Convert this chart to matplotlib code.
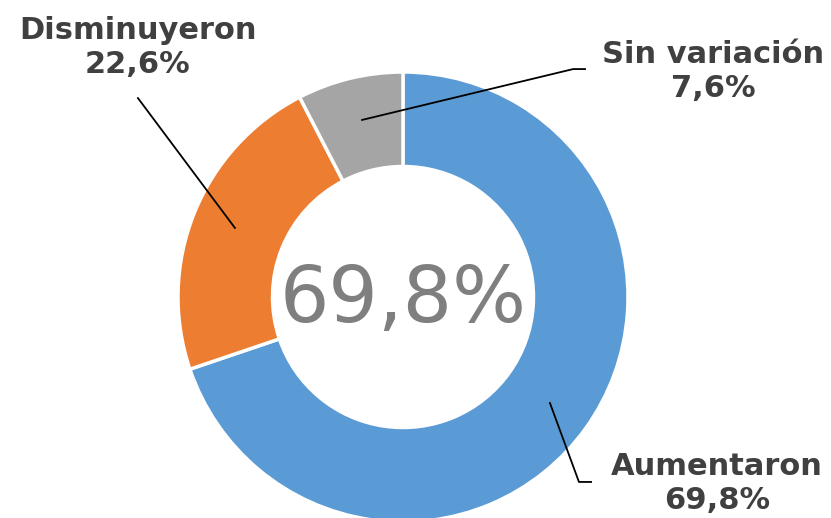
import matplotlib.pyplot as plt

categorias = ['Aumentaron', 'Disminuyeron', 'Sin variación']
valores = [69.8, 22.6, 7.6]
colores = ['#5B9BD5', '#ED7D31', '#A5A5A5']

# posiciones de etiquetas y líneas guía (coordenadas del eje, radio externo = 1)
texto_pos = [(1.396, -0.827), (-1.178, 1.107), (1.378, 1.004)]
guias = [
    [(0.653, -0.471), (0.782, -0.822), (0.836, -0.822)],
    [(-0.747, 0.307), (-1.178, 0.884)],
    [(-0.182, 0.787), (0.756, 1.013), (0.809, 1.013)],
]


def fmt(v):
    return f'{v:.1f}'.replace('.', ',') + '%'


fig = plt.figure(figsize=(8.31, 5.18), dpi=100)
ax = fig.add_axes([178 / 831, -4 / 518, 450 / 831, 450 / 518])

ax.pie(valores, colors=colores, startangle=90, counterclock=False,
       radius=1, wedgeprops=dict(width=0.42, edgecolor='white', linewidth=2.5))
ax.set_xlim(-1, 1)
ax.set_ylim(-1, 1)
ax.set_aspect('equal')
ax.axis('off')

for pts in guias:
    xs = [p[0] for p in pts]
    ys = [p[1] for p in pts]
    ax.plot(xs, ys, color='black', linewidth=1.3, clip_on=False)

for cat, val, (tx, ty) in zip(categorias, valores, texto_pos):
    ax.text(tx, ty, f'{cat}\n{fmt(val)}', ha='center', va='center',
            fontsize=22, fontweight='bold', color='#404040',
            linespacing=1.22, clip_on=False)

ax.text(0, -0.111, fmt(valores[0]), ha='center', va='baseline',
        fontsize=56, color='#7F7F7F')

fig.savefig('out.png', dpi=100)
